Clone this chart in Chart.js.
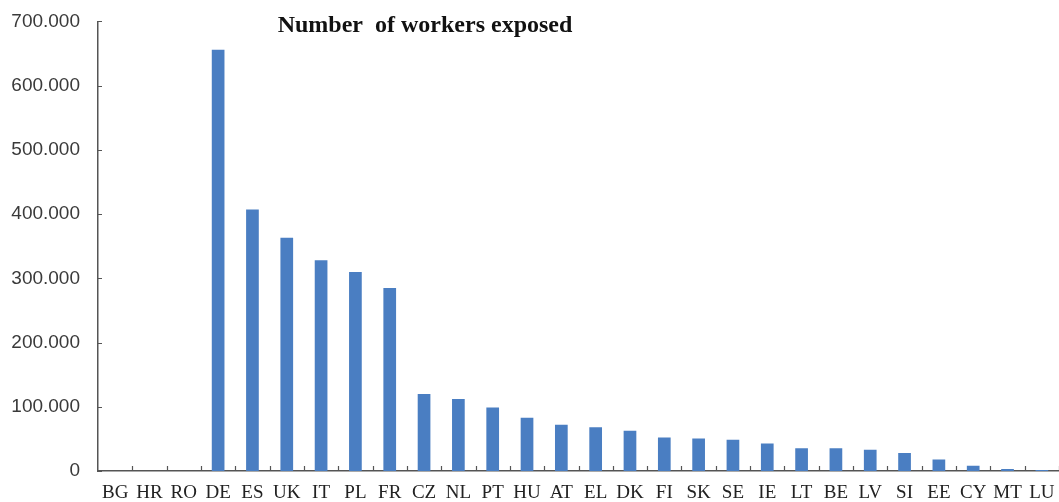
<!DOCTYPE html>
<html>
<head>
<meta charset="utf-8">
<script src="https://cdn.jsdelivr.net/npm/chart.js@4/dist/chart.umd.min.js"></script>
<style>
  html, body { margin: 0; padding: 0; background: #fff; }
  #wrap { width: 1059px; height: 502px; }
</style>
</head>
<body>
<div id="wrap"><canvas id="myChart" width="1059" height="502"></canvas></div>
<script>
var countries = ['BG','HR','RO','DE','ES','UK','IT','PL','FR','CZ','NL','PT','HU','AT','EL','DK','FI','SK','SE','IE','LT','BE','LV','SI','EE','CY','MT','LU'];
var workers = [0, 0, 0, 656000, 407000, 363000, 328000, 310000, 285000, 120000, 112000, 99000, 83000, 72000, 68000, 62500, 52000, 50500, 48500, 43000, 35500, 35500, 33000, 28000, 18000, 8000, 3000, 1500];
var chartTitle = 'Number  of workers exposed';

// little inward ticks + title text
var extras = {
  id: 'extras',
  afterDraw: function(chart) {
    var c = chart.ctx;
    var x = chart.scales.x, y = chart.scales.y;
    c.save();
    c.strokeStyle = '#555';
    c.lineWidth = 1.2;
    c.beginPath();
    y.ticks.forEach(function(t, i) {
      var py = Math.round(y.getPixelForTick(i)) + 0.5;
      c.moveTo(x.left, py);
      c.lineTo(x.left + 4, py);
    });
    var n = countries.length;
    var step = (x.right - x.left) / n;
    for (var i = 1; i <= n; i++) {
      var px = Math.round(x.left + i * step) + 0.5;
      c.moveTo(px, y.bottom);
      c.lineTo(px, y.bottom - 5);
    }
    c.stroke();
    c.fillStyle = '#111';
    c.font = 'bold 24px "Liberation Serif", "Times New Roman", serif';
    c.textAlign = 'center';
    c.textBaseline = 'middle';
    c.fillText(chartTitle, 425, 26);
    c.restore();
  }
};

var ctx = document.getElementById('myChart').getContext('2d');
var myChart = new Chart(ctx, {
  type: 'bar',
  data: {
    labels: countries,
    datasets: [{
      label: 'workers',
      data: workers,
      backgroundColor: '#4A7EC2',
      barPercentage: 0.37,
      categoryPercentage: 1.0
    }]
  },
  options: {
    responsive: false,
    animation: false,
    layout: { padding: { top: 16, right: 0, left: 0, bottom: 0 } },
    plugins: {
      legend: { display: false },
      tooltip: { enabled: false }
    },
    scales: {
      x: {
        grid: { display: false },
        border: { display: true, color: '#555', width: 1.5 },
        ticks: {
          color: '#222',
          font: { family: '"Liberation Serif", "Times New Roman", serif', size: 19 },
          maxRotation: 0,
          autoSkip: false,
          padding: 3
        },
        afterFit: function(s) { s.height = 31; }
      },
      y: {
        min: 0,
        max: 700000,
        grid: { display: false },
        border: { display: true, color: '#555', width: 1.5 },
        ticks: {
          stepSize: 100000,
          color: '#3a3a3a',
          padding: 10,
          font: { family: '"Liberation Sans", Arial, sans-serif', size: 19 },
          callback: function(v) { return v.toLocaleString('de-DE'); }
        },
        afterFit: function(s) { s.width = 98; }
      }
    }
  },
  plugins: [extras]
});
</script>
</body>
</html>
